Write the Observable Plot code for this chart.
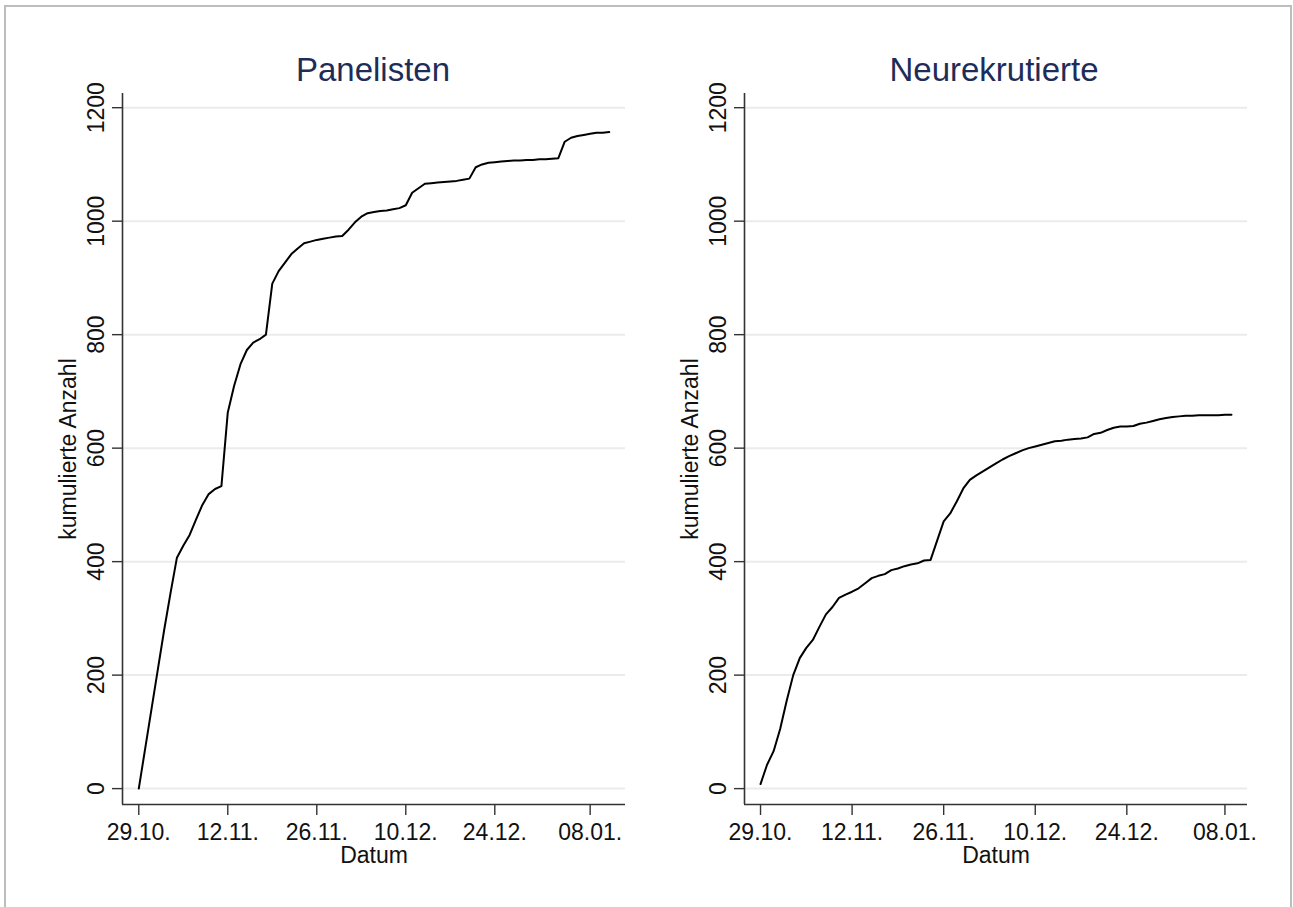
<!DOCTYPE html>
<html>
<head>
<meta charset="utf-8">
<script src="https://cdn.jsdelivr.net/npm/d3@7"></script>
<script src="https://cdn.jsdelivr.net/npm/@observablehq/plot@0.6"></script>
<style>
  html, body { margin: 0; padding: 0; background: #fff; }
  #page { position: relative; width: 1293px; height: 907px; overflow: hidden; background: #fff;
          font-family: "Liberation Sans", Arial, Helvetica, sans-serif; }
  #border { position: absolute; left: 4px; top: 5px; width: 1288px; height: 1000px;
            box-sizing: border-box; border: 2px solid #bdbdbd; }
  .title { position: absolute; width: 500px; text-align: center; font-size: 33px; line-height: 33px;
           color: #1e2d57; }
  .panel { position: absolute; top: 0; }
</style>
</head>
<body>
<div id="page">
  <div id="border"></div>
  <div class="title" id="t1"></div>
  <div class="title" id="t2"></div>
  <div class="panel" id="p1"></div>
  <div class="panel" id="p2"></div>
</div>
<script>
// ---------- data ----------
const panelTitles = ["Panelisten", "Neurekrutierte"];
const xLabel = "Datum";
const yLabel = "kumulierte Anzahl";
const yTicks = [0, 200, 400, 600, 800, 1000, 1200];
const xTickLabels = ["2020-10-29", "2020-11-12", "2020-11-26", "2020-12-10", "2020-12-24", "2021-01-08"];
const startDate = "2020-10-29";

// cumulative counts per day, starting 29.10.
const panelValues = [
  0, 70, 140, 210, 280, 345, 407, 428, 447, 474,
  500, 519, 528, 533, 663, 710, 748, 773, 786, 792,
  800, 890, 912, 927, 942, 952, 961, 964, 967, 969,
  971, 973, 974, 985, 998, 1008, 1014, 1016, 1018, 1019,
  1021, 1023, 1028, 1050, 1058, 1066, 1067, 1068, 1069, 1070,
  1071, 1073, 1075, 1095, 1100, 1103, 1104, 1105, 1106, 1107,
  1107, 1108, 1108, 1109, 1109, 1110, 1111, 1140, 1147, 1150,
  1152, 1154, 1156, 1156, 1157
];
const recruitValues = [
  8, 42, 66, 105, 155, 200, 230, 248, 262, 285,
  307, 320, 336, 342, 347, 353, 362, 371, 375, 378,
  385, 388, 392, 395, 397, 402, 403, 437, 471, 485,
  506, 529, 544, 552, 559, 566, 573, 580, 586, 591,
  596, 600, 603, 606, 609, 612, 613, 615, 616, 617,
  619, 625, 627, 632, 636, 638, 638, 639, 643, 645,
  648, 651, 653, 655, 656, 657, 657, 658, 658, 658,
  658, 659, 659
];

// ---------- build ----------
const start = new Date(startDate + "T00:00:00Z");
const day = 864e5;
const toRows = vals => vals.map((v, i) => ({date: new Date(+start + i * day), value: v}));
const xTicks = xTickLabels.map(s => new Date(s + "T00:00:00Z"));

function panel(values, el, leftPx, xPadDays) {
  const rows = toRows(values);
  const n = values.length - 1;
  const pad = n * xPadDays;
  const xDomain = [new Date(+start - pad * day), new Date(+start + (n + pad) * day)];
  const yDomain = [-28, 1225];
  const fs = 23;
  const chart = Plot.plot({
    width: 646,
    height: 907,
    marginLeft: 122,
    marginRight: 21,
    marginTop: 93,
    marginBottom: 103,
    style: {fontFamily: '"Liberation Sans", Arial, Helvetica, sans-serif', color: "#111", background: "transparent", overflow: "visible"},
    x: {type: "utc", domain: xDomain},
    y: {domain: yDomain},
    marks: [
      Plot.gridY(yTicks, {stroke: "#ebebeb", strokeOpacity: 1, strokeWidth: 2}),
      Plot.ruleX([xDomain[0]], {stroke: "#333", strokeWidth: 1.6}),
      Plot.ruleY([yDomain[0]], {stroke: "#333", strokeWidth: 1.6}),
      Plot.axisY({ticks: yTicks, tickSize: 10, tickFormat: () => "", label: null, stroke: "#333", strokeWidth: 1.4}),
      Plot.text(yTicks, {y: d => d, text: d => String(d), frameAnchor: "left", dx: -19, rotate: -90,
                         textAnchor: "middle", lineAnchor: "bottom", fontSize: fs, fill: "#111"}),
      Plot.axisX({ticks: xTicks, tickFormat: d3.utcFormat("%d.%m."), tickSize: 11, tickPadding: 8,
                  fontSize: fs, label: null, stroke: "#333", strokeWidth: 1.4, fill: "#111"}),
      Plot.text([yLabel], {frameAnchor: "left", dx: -47, rotate: -90, textAnchor: "middle",
                           lineAnchor: "bottom", fontSize: fs, fill: "#111"}),
      Plot.text([xLabel], {frameAnchor: "bottom", dy: 58, lineAnchor: "bottom", fontSize: fs, fill: "#111"}),
      Plot.line(rows, {x: "date", y: "value", stroke: "#000", strokeWidth: 2})
    ]
  });
  el.style.left = leftPx + "px";
  el.appendChild(chart);
}

panel(panelValues, document.getElementById("p1"), 0, 2.56 / 74);
panel(recruitValues, document.getElementById("p2"), 621.5, 2.45 / 72);

const t1 = document.getElementById("t1");
t1.textContent = panelTitles[0];
t1.style.left = (373 - 250) + "px"; t1.style.top = "53px";
const t2 = document.getElementById("t2");
t2.textContent = panelTitles[1];
t2.style.left = (994 - 250) + "px"; t2.style.top = "53px";
</script>
</body>
</html>
